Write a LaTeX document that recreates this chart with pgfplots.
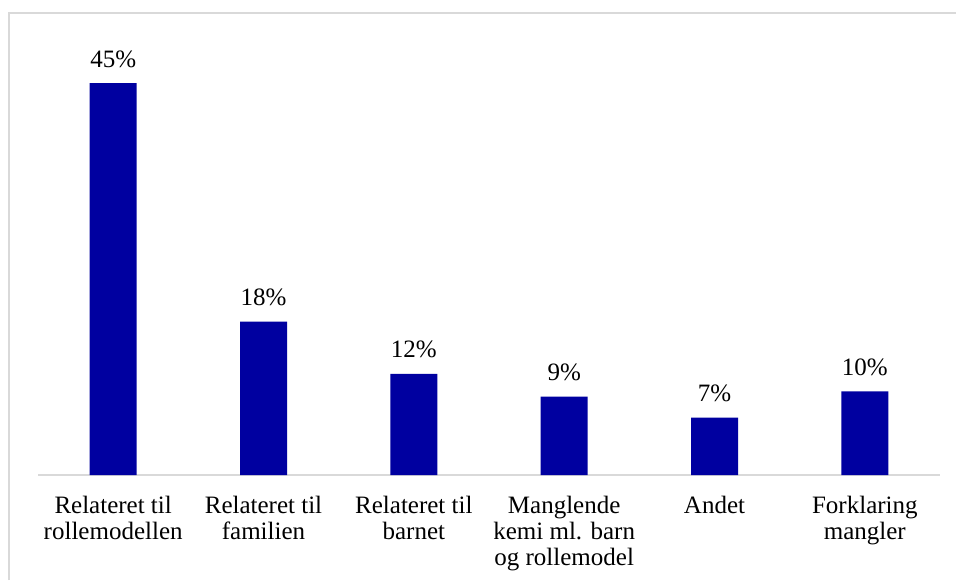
\documentclass[border=0pt]{standalone}
\usepackage{fontspec}
\setmainfont{Liberation Serif}
\usepackage{pgfplots}
\pgfplotsset{compat=1.18}
\definecolor{barblue}{RGB}{0,0,160}
\definecolor{framegray}{RGB}{217,217,217}
\begin{document}
\begin{tikzpicture}
\useasboundingbox (0,0) rectangle (478pt,290pt);
% outer chart frame (cropped at right and bottom)
\draw[framegray, line width=0.75pt] (4.5pt,0) -- (4.5pt,283.5pt) -- (478pt,283.5pt);
\begin{axis}[
    at={(19pt,52.5pt)}, anchor=south west,
    scale only axis,
    width=451pt, height=217.75pt,
    ybar, bar width=23.5pt,
    xmin=-0.5, xmax=5.5, ymin=0, ymax=50,
    xtick=data,
    xticklabels={{Relateret til\\rollemodellen},{Relateret til\\familien},{Relateret til\\barnet},{Manglende\\kemi ml. barn\\og rollemodel},{Andet},{Forklaring\\mangler}},
    xticklabel style={font=\fontsize{12.5}{13}\selectfont, align=center, anchor=north, inner sep=0pt, yshift=-10.25pt},
    major tick length=0pt,
    hide y axis,
    axis x line*=bottom,
    x axis line style={framegray, line width=0.75pt, -},
    /pgf/number format/assume math mode=true,
    nodes near coords={\pgfmathprintnumber[fixed,precision=0,assume math mode=true]{\pgfplotspointmeta}\%},
    nodes near coords style={font=\fontsize{12.5}{13}\selectfont, anchor=base, inner sep=0pt, yshift=8pt},
]
\addplot[fill=barblue, draw=none] coordinates {(0,45) (1,17.6) (2,11.6) (3,9.0) (4,6.6) (5,9.6)};
\end{axis}
\end{tikzpicture}
\end{document}
